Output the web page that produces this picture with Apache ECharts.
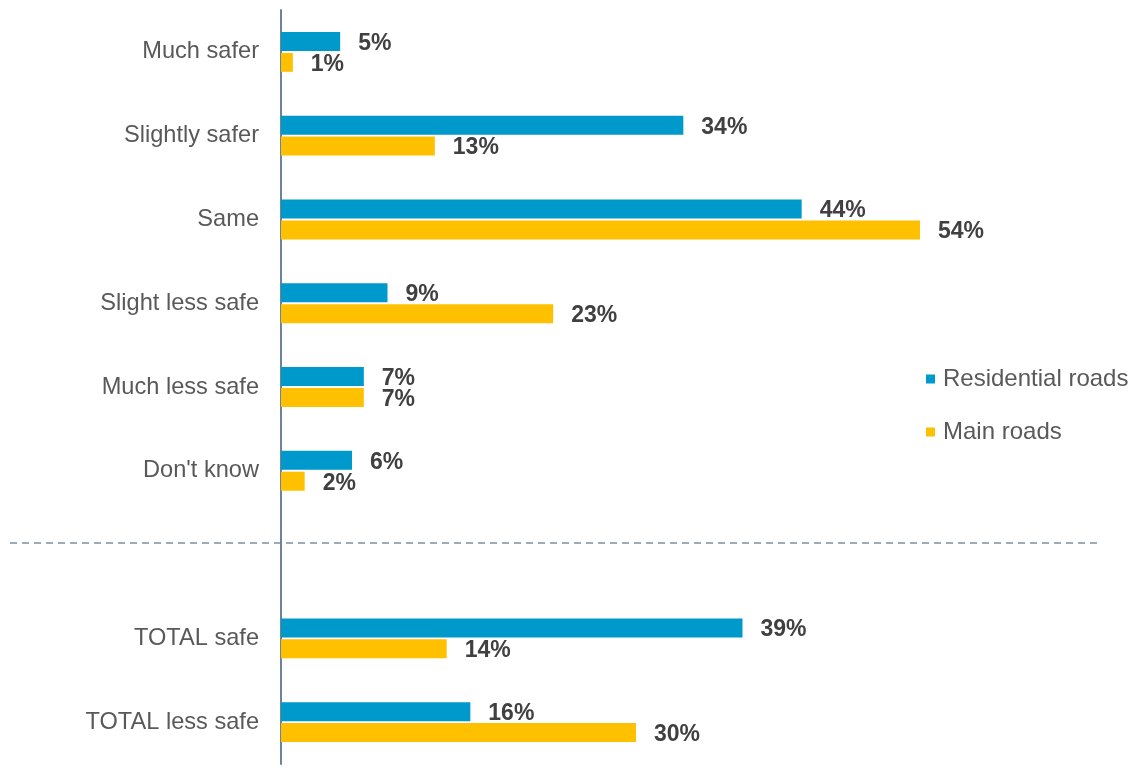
<!DOCTYPE html>
<html>
<head>
<meta charset="utf-8">
<script src="https://cdn.jsdelivr.net/npm/echarts@6/dist/echarts.min.js"></script>
<style>
  html, body { margin: 0; padding: 0; background: #fff; }
  #main { width: 1140px; height: 776px; }
</style>
</head>
<body>
<div id="main"></div>
<script>
// 数据
var categories = ["Much safer", "Slightly safer", "Same", "Slight less safe", "Much less safe", "Don't know", "", "TOTAL safe", "TOTAL less safe"];
var residential = [5, 34, 44, 9, 7, 6, null, 39, 16];
var mainRoads = [1, 13, 54, 23, 7, 2, null, 14, 30];
var seriesNames = ["Residential roads", "Main roads"];

var FONT = '"Liberation Sans"';
var chart = echarts.init(document.getElementById('main'));

var labelStyle = {
    show: true,
    position: 'right',
    distance: 18,
    offset: [0, 2],
    color: '#404040',
    fontSize: 23,
    fontWeight: 'bold',
    fontFamily: FONT,
    formatter: function (p) {
        return p.value == null ? '' : p.value + '%';
    }
};

var option = {
    animation: false,
    textStyle: { fontFamily: FONT },
    grid: {
        left: 281,
        right: 149,
        top: 10,
        bottom: 12
    },
    legend: {
        data: seriesNames,
        orient: 'vertical',
        left: 921,
        top: 362,
        itemWidth: 9,
        itemHeight: 9,
        itemGap: 29,
        icon: 'rect',
        textStyle: {
            color: '#595959',
            fontSize: 24,
            fontFamily: FONT,
            padding: [0, 0, 0, 3]
        }
    },
    xAxis: {
        type: 'value',
        min: 0,
        max: 60,
        show: false
    },
    yAxis: {
        type: 'category',
        data: categories,
        inverse: true,
        axisLine: {
            show: true,
            lineStyle: { color: '#6f8398', width: 2 }
        },
        axisTick: { show: false },
        axisLabel: {
            margin: 22,
            color: '#595959',
            fontSize: 23.6,
            fontFamily: FONT
        }
    },
    series: [{
        name: seriesNames[0],
        type: 'bar',
        data: residential,
        barWidth: 19,
        barGap: '10%',
        itemStyle: { color: '#0099cc' },
        label: labelStyle
    }, {
        name: seriesNames[1],
        type: 'bar',
        data: mainRoads,
        barWidth: 19,
        barGap: '10%',
        itemStyle: { color: '#ffc000' },
        label: labelStyle
    }],
    graphic: [{
        type: 'line',
        shape: { x1: 10, y1: 543, x2: 1097, y2: 543 },
        style: { stroke: '#7f90a2', lineWidth: 1.5, lineDash: [7, 5] }
    }]
};

chart.setOption(option);
</script>
</body>
</html>
